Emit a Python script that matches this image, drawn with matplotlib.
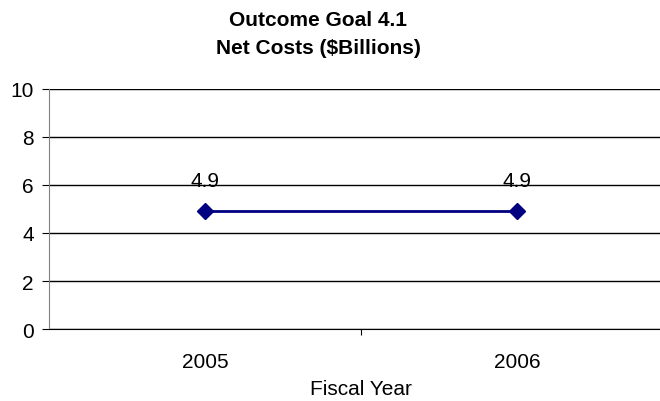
import matplotlib

matplotlib.use("Agg")
import matplotlib.pyplot as plt

plt.rcParams["font.family"] = ["Liberation Sans", "DejaVu Sans"]

years = ["2005", "2006"]
net_costs = [4.9, 4.9]
y_ticks = [0, 2, 4, 6, 8, 10]

fig = plt.figure(figsize=(6.6, 4.02), dpi=100)
# plot area runs past the right edge, as in the original
ax = fig.add_axes([49 / 660, 1 - 330 / 402, 624 / 660, 240 / 402])

x = range(len(years))
ax.plot(x, net_costs, color="#000080", linewidth=2, marker="D", markersize=8.5, zorder=3)
for xi, v in zip(x, net_costs):
    ax.annotate(f"{v}", (xi, v), xytext=(0, 22), textcoords="offset points",
                ha="center", va="center", fontsize=15, zorder=4)

ax.set_xlim(-0.5, 1.5)
ax.set_ylim(0, 10)
ax.set_yticks(y_ticks)
ax.yaxis.grid(True, color="black", linewidth=1)
ax.set_axisbelow(True)

ax.set_xticks([0.5])
ax.set_xticklabels([""])
ax.tick_params(axis="x", length=4, direction="out", color="black")
ax.tick_params(axis="y", length=5, labelsize=15, pad=6, color="black")
for xi, name in zip(x, years):
    ax.text(xi, -32 / 240, name, transform=ax.get_xaxis_transform(),
            ha="center", va="center", fontsize=15)

for side in ("top", "right"):
    ax.spines[side].set_visible(False)
ax.spines["left"].set_color("#808080")
ax.spines["bottom"].set_color("black")

fig.text(361 / 660, 1 - 390 / 402, "Fiscal Year", ha="center", va="center", fontsize=15)
fig.text(318 / 660, 1 - 35 / 402, "Outcome Goal 4.1\nNet Costs ($Billions)",
         ha="center", va="center", fontsize=15, fontweight="bold", linespacing=1.6)

fig.savefig("out.png", dpi=100)
